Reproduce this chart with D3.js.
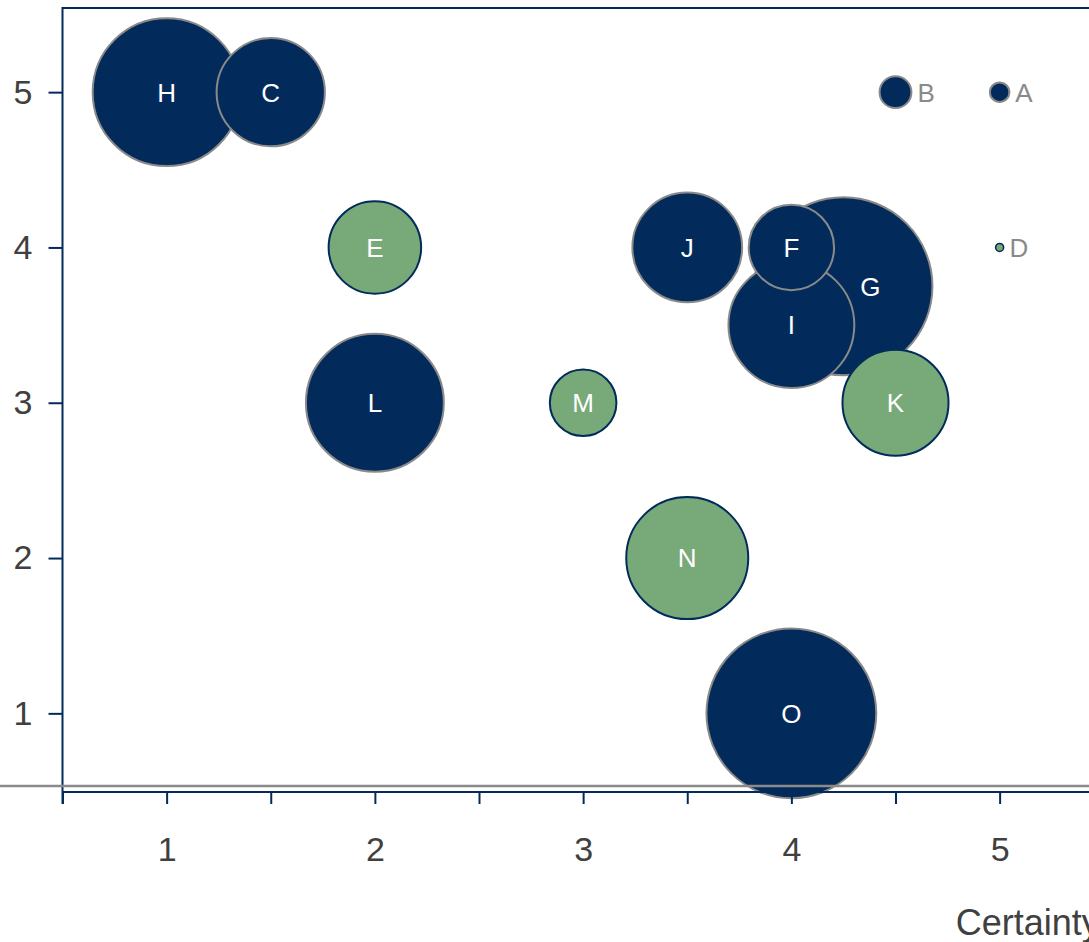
<!DOCTYPE html>
<html>
<head>
<meta charset="utf-8">
<script src="https://cdn.jsdelivr.net/npm/d3@7.9.0/dist/d3.min.js"></script>
<style>
  body { margin: 0; background: #fff; }
  svg { display: block; font-family: "Liberation Sans", Arial, sans-serif; }
</style>
</head>
<body>
<svg id="chart" width="1089" height="942"></svg>
<script>
// bubble data
const names  = ['A', 'B', 'C', 'D', 'E', 'F', 'G', 'H', 'I', 'J', 'K', 'L', 'M', 'N', 'O'];
const certainty = [5, 4.5, 1.5, 5, 2, 4, 4.25, 1, 4, 3.5, 4.5, 2, 3, 3.5, 4];
const impact    = [5, 5, 5, 4, 4, 4, 3.75, 5, 3.5, 4, 3, 3, 3, 2, 1];
const sizes     = [1.2, 3.2, 37, 0.2, 27, 23, 100, 69, 50, 38, 35.5, 60, 14, 47, 91];
const groups    = ['navy', 'navy', 'navy', 'green', 'green', 'navy', 'navy', 'navy', 'navy', 'navy', 'green', 'navy', 'green', 'green', 'navy'];

const xTicks = [1, 2, 3, 4, 5];
const yTicks = [1, 2, 3, 4, 5];
const xTitle = 'Certainty';

const navy = '#022b5b';
const green = '#78a978';
const grey = '#8a8a8a';

const svg = d3.select('#chart');

const x = d3.scaleLinear().domain([0.5, 5.5]).range([62.5, 1103.75]);
const y = d3.scaleLinear().domain([0.5, 5.5]).range([791, 14.5]);
const r = d3.scaleSqrt().domain([0, 100]).range([0, 89]);

const data = names.map((n, i) => ({
  name: n, cx: certainty[i], cy: impact[i], size: sizes[i], group: groups[i]
})).sort((a, b) => b.size - a.size); // big ones underneath

// frame: top line
svg.append('line')
  .attr('x1', 62.5).attr('x2', 1089).attr('y1', 8).attr('y2', 8)
  .attr('stroke', navy).attr('stroke-width', 2);

// bubbles
const bubbles = svg.append('g');
bubbles.selectAll('circle')
  .data(data)
  .join('circle')
  .attr('cx', d => x(d.cx))
  .attr('cy', d => y(d.cy))
  .attr('r', d => r(d.size))
  .attr('fill', d => d.group === 'green' ? green : navy)
  .attr('stroke', d => d.group === 'green' ? navy : grey)
  .attr('stroke-width', d => d.size < 1 ? 1.6 : 2);

// labels: white inside big bubbles, grey beside small ones
const labelShift = { G: 27 };
bubbles.selectAll('text')
  .data(data)
  .join('text')
  .attr('x', d => r(d.size) < 20 ? x(d.cx) + r(d.size) + 6 : x(d.cx) + (labelShift[d.name] || 0))
  .attr('y', d => y(d.cy))
  .attr('dy', '0.36em')
  .attr('text-anchor', d => r(d.size) < 20 ? 'start' : 'middle')
  .attr('fill', d => r(d.size) < 20 ? grey : '#fff')
  .attr('font-size', 26)
  .text(d => d.name);

// y axis
const yAxis = svg.append('g')
  .attr('transform', 'translate(62.5,0)')
  .call(d3.axisLeft(y).tickValues(yTicks).tickSize(14).tickPadding(16).tickFormat(d3.format('d')));
yAxis.select('.domain').attr('d', 'M0,7V804');

// x axis
const xAxis = svg.append('g')
  .attr('transform', 'translate(0,792)')
  .call(d3.axisBottom(x).tickValues(d3.range(0.5, 5.51, 0.5)).tickSize(12).tickPadding(33)
    .tickFormat(d => Number.isInteger(d) && xTicks.includes(d) ? d : ''));
xAxis.select('.domain').attr('d', 'M62.5,0H1089');

svg.selectAll('.domain').attr('stroke', navy).attr('stroke-width', 2);
svg.selectAll('.tick line').attr('stroke', navy).attr('stroke-width', 2);
svg.selectAll('.tick text')
  .attr('fill', '#404040')
  .attr('font-size', 34)
  .attr('font-family', '"Liberation Sans", Arial, sans-serif');

// grey reference line over the bubbles
svg.append('line')
  .attr('x1', 0).attr('x2', 1089)
  .attr('y1', 786).attr('y2', 786)
  .attr('stroke', grey).attr('stroke-width', 2.5);

// axis title, clipped at the right edge like the original
svg.append('text')
  .attr('x', x(5.5) - 4)
  .attr('y', 935)
  .attr('text-anchor', 'end')
  .attr('fill', '#404040')
  .attr('font-size', 36)
  .text(xTitle);
</script>
</body>
</html>
